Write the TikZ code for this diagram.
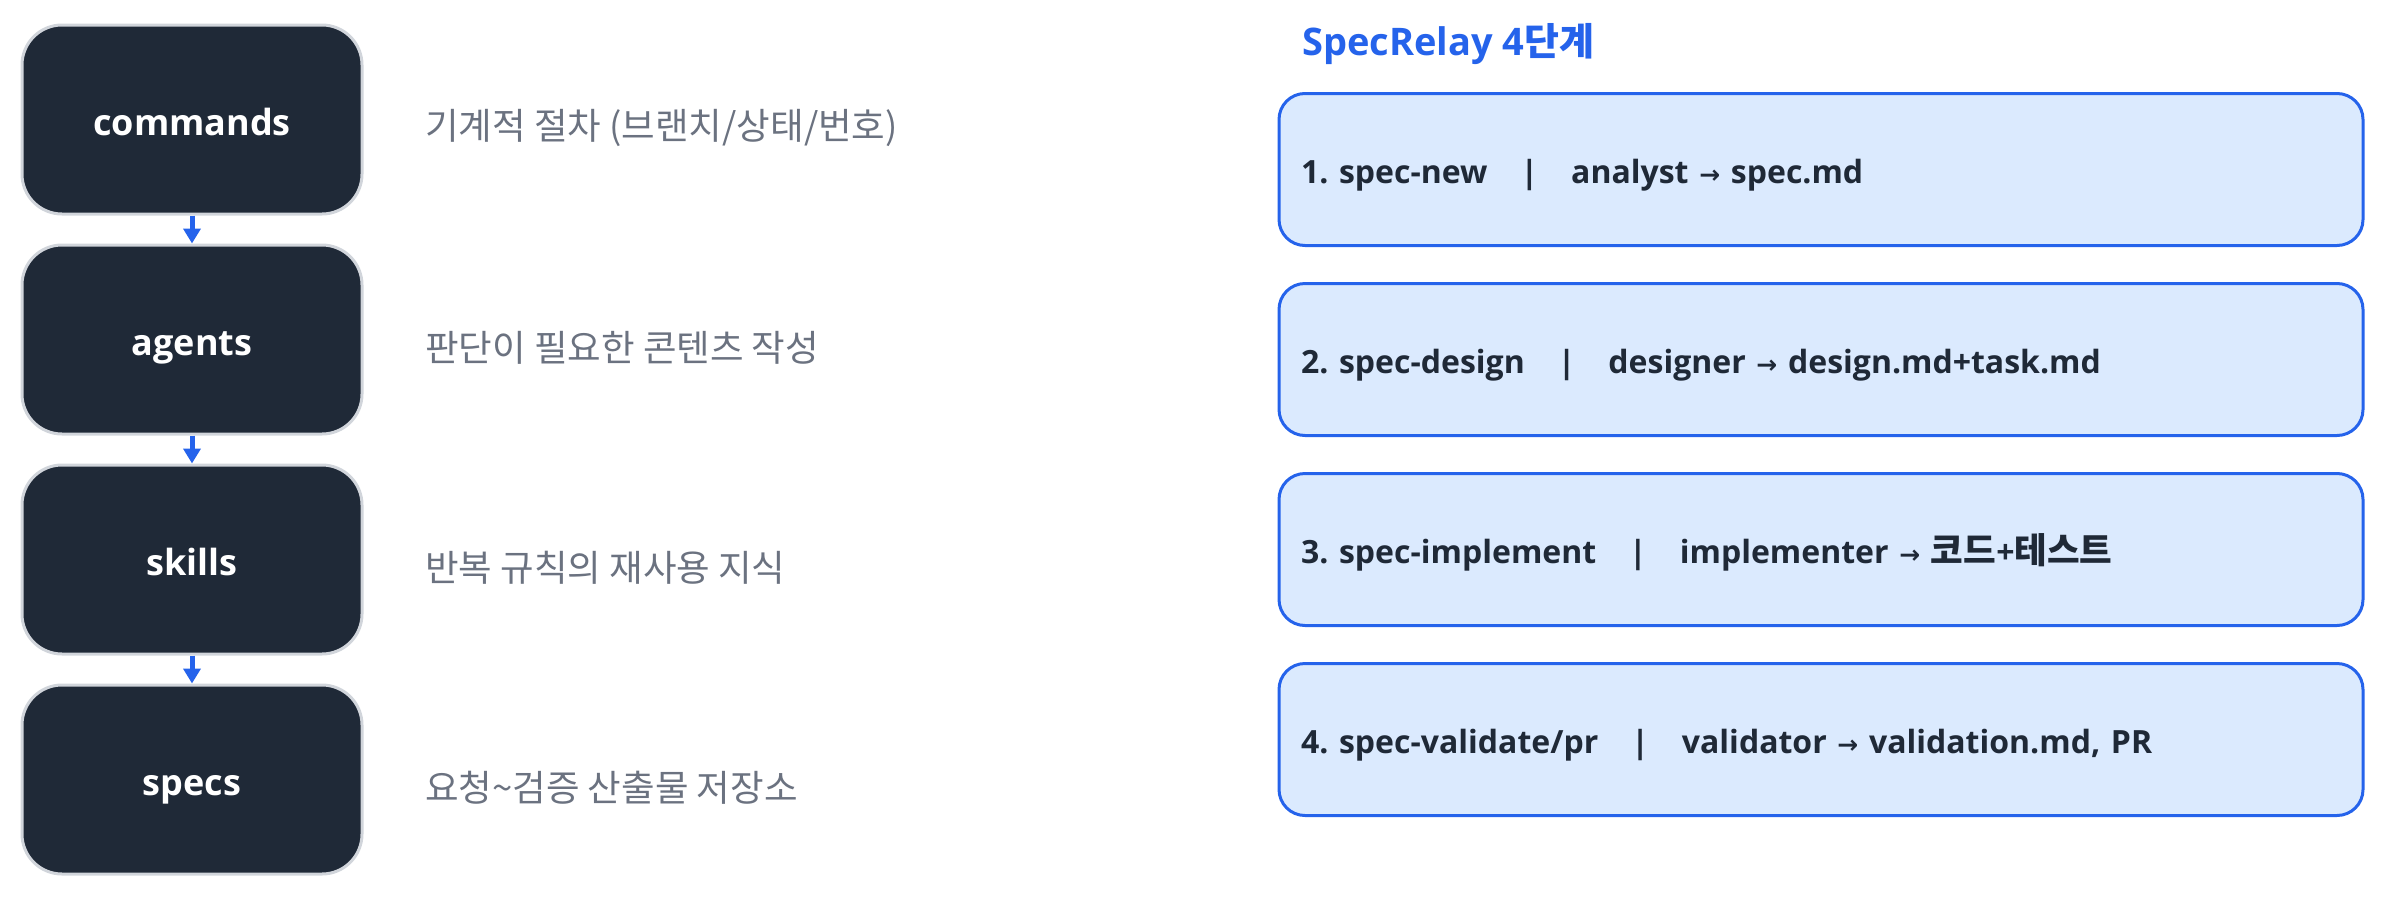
\documentclass[tikz,border=0pt]{standalone}
\usepackage{fontspec}
\setmainfont{Open Sans}
\newfontfamily\kr{Noto Sans CJK KR}
\newfontfamily\arrowfont{DejaVu Sans}
\usetikzlibrary{arrows.meta}
\frenchspacing
\definecolor{darkbox}{HTML}{1F2937}
\definecolor{darkborder}{HTML}{D1D5DB}
\definecolor{bluec}{HTML}{2563EB}
\definecolor{lightblue}{HTML}{DBEAFE}
\definecolor{labelgray}{HTML}{6B7280}
\newcommand{\rarr}{{\arrowfont\fontsize{25}{28}\selectfont →}}
\newcommand{\sep}{\hspace{33pt}|\hspace{33pt}}
\newcommand{\krrow}[1]{{\kr\fontsize{35.5}{38}\selectfont #1}}
\tikzset{
  layerbox/.style={draw=darkborder, line width=3pt, fill=darkbox, rounded corners=40pt,
    minimum width=340pt, minimum height=189pt, text=white,
    text height=33pt, text depth=2pt,
    font=\fontsize{36}{44}\selectfont\bfseries},
  layerlabel/.style={anchor=west, text=labelgray, inner sep=0pt,
    font=\kr\fontsize{36.5}{42}\selectfont},
  stagebox/.style={draw=bluec, line width=3pt, fill=lightblue, rounded corners=26pt,
    minimum height=152pt, text width=1040pt, inner xsep=22pt, align=left,
    text height=30pt, text depth=3pt,
    text=darkbox, font=\fontsize{32}{38}\selectfont\bfseries},
  flowarrow/.style={draw=bluec, line width=5pt, -{Triangle[width=17pt,length=15pt]}},
}
\begin{document}
\begin{tikzpicture}[x=1pt,y=-1pt]
\useasboundingbox (0,0) rectangle (2384,897);
% left stack
\node[layerbox] (commands) at (192,119.5) {commands};
\node[layerbox] (agents) at (192,339.5) {agents};
\node[layerbox] (skills) at (192,559.5) {skills};
\node[layerbox] (specs) at (192,779.5) {specs};
\draw[flowarrow] (commands.south) -- (agents.north);
\draw[flowarrow] (agents.south) -- (skills.north);
\draw[flowarrow] (skills.south) -- (specs.north);
% labels
\node[layerlabel] (lab1) at (425,128) {기계적 절차 (브랜치/상태/번호)};
\node[layerlabel] (lab2) at (425,348) {판단이 필요한 콘텐츠 작성};
\node[layerlabel] (lab3) at (425,568) {반복 규칙의 재사용 지식};
\node[layerlabel] (lab4) at (425,788) {요청\textasciitilde 검증 산출물 저장소};
% right side
\node[anchor=base west, inner sep=0pt, text=bluec, font=\fontsize{38}{46}\selectfont\bfseries] (title) at (1302,55) {SpecRelay 4{\kr 단계}};
\node[stagebox] (s1) at (1821,169.5) {1. spec-new\sep analyst \rarr{} spec.md};
\node[stagebox] (s2) at (1821,359.5) {2. spec-design\sep designer \rarr{} design.md+task.md};
\node[stagebox] (s3) at (1821,549.5) {3. spec-implement\sep implementer \rarr{} \krrow{코드}+\krrow{테스트}};
\node[stagebox] (s4) at (1821,739.5) {4. spec-validate/pr\sep validator \rarr{} validation.md, PR};
\end{tikzpicture}
\end{document}
